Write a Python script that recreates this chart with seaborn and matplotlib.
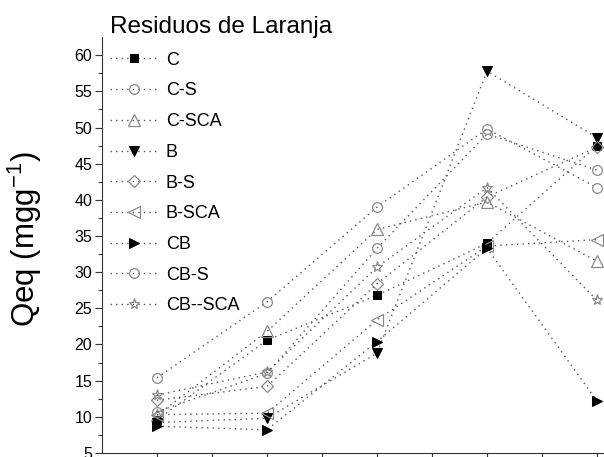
import matplotlib
matplotlib.use("Agg")
import matplotlib.pyplot as plt
import seaborn as sns
import numpy as np
import pandas as pd

# ---- data ----
x_pos = [1, 2, 3, 4, 5]
series_names = ["C", "C-S", "C-SCA", "B", "B-S", "B-SCA", "CB", "CB-S", "CB--SCA"]
C = [9.6, 20.6, 26.8, 34.0, 47.5]
C_S = [15.4, 25.9, 39.0, 49.8, 41.7]
C_SCA = [10.2, 21.8, 35.9, 39.7, 31.5]
B = [9.2, 9.8, 18.8, 57.8, 48.6]
B_S = [12.3, 14.2, 28.4, 40.4, 47.3]
B_SCA = [10.3, 10.5, 23.4, 33.6, 34.5]
CB = [8.7, 8.2, 20.4, 33.3, 12.2]
CB_S = [10.7, 16.0, 33.3, 49.1, 44.1]
CB_SCA = [13.0, 16.2, 30.7, 41.7, 26.1]
y_ticks = [5, 10, 15, 20, 25, 30, 35, 40, 45, 50, 55, 60]
legend_title = "Residuos de Laranja"
y_label = "Qeq (mgg$^{\\mathregular{-1}}$)"

values = [C, C_S, C_SCA, B, B_S, B_SCA, CB, CB_S, CB_SCA]
markers = ["s", "o", "^", "v", "D", "<", ">", "o", "*"]
filled = [True, False, False, True, False, False, True, False, False]
msizes = [6, 7, 8, 7.5, 6, 8, 7.5, 7, 8]

sns.set_style("ticks")
plt.rcParams["font.family"] = ["Liberation Sans", "DejaVu Sans"]
plt.rcParams["text.color"] = "black"

fig = plt.figure(figsize=(6.04, 4.57), dpi=100)
ax = fig.add_axes([0.1689, 0.0088, 0.9106, 0.9100])

line_color = "#555555"
open_color = "#8a8a8a"
for name, vals, m, f, ms in zip(series_names, values, markers, filled, msizes):
    df = pd.DataFrame({"x": x_pos, "y": vals})
    kw = dict(marker=m, markersize=ms, linestyle=(0, (1, 3)), linewidth=1.0,
              color=line_color)
    if f:
        kw.update(markerfacecolor="black", markeredgecolor="black")
    else:
        kw.update(markerfacecolor="none", markeredgecolor=open_color,
                  markeredgewidth=0.9)
    sns.lineplot(data=df, x="x", y="y", ax=ax, label=name, **kw)

ax.set_xlim(0.5, 5.5)
ax.set_ylim(5, 62.5)
ax.set_yticks(y_ticks)
ax.set_yticks(np.arange(7.5, 62.5, 5), minor=True)
ax.set_xticks(np.arange(1, 5.51, 0.5))
ax.set_xticklabels([])
ax.tick_params(axis="y", which="major", length=5, width=0.8, labelsize=11.5,
               colors="#333333", labelcolor="black", pad=2)
ax.tick_params(axis="y", which="minor", length=3, width=0.8, colors="#333333")
ax.tick_params(axis="x", which="major", length=5, width=0.8, colors="#333333")
ax.set_xlabel("")
ax.set_ylabel(y_label, fontsize=22.5, color="black")
ax.yaxis.set_label_coords(-0.105, 0.515)

for s in ["top", "right"]:
    ax.spines[s].set_visible(False)
for s in ["left", "bottom"]:
    ax.spines[s].set_color("#333333")
    ax.spines[s].set_linewidth(0.8)

leg = ax.legend(loc="upper left", bbox_to_anchor=(0.182, 0.965),
                bbox_transform=fig.transFigure, frameon=False,
                title=legend_title, title_fontsize=17.5, fontsize=13,
                alignment="left", handlelength=2.7, handletextpad=0.4,
                labelspacing=0.76, borderpad=0, borderaxespad=0, numpoints=1)
for t in leg.get_texts():
    t.set_color("black")
leg.get_title().set_color("black")

fig.savefig("out.png", dpi=100)
